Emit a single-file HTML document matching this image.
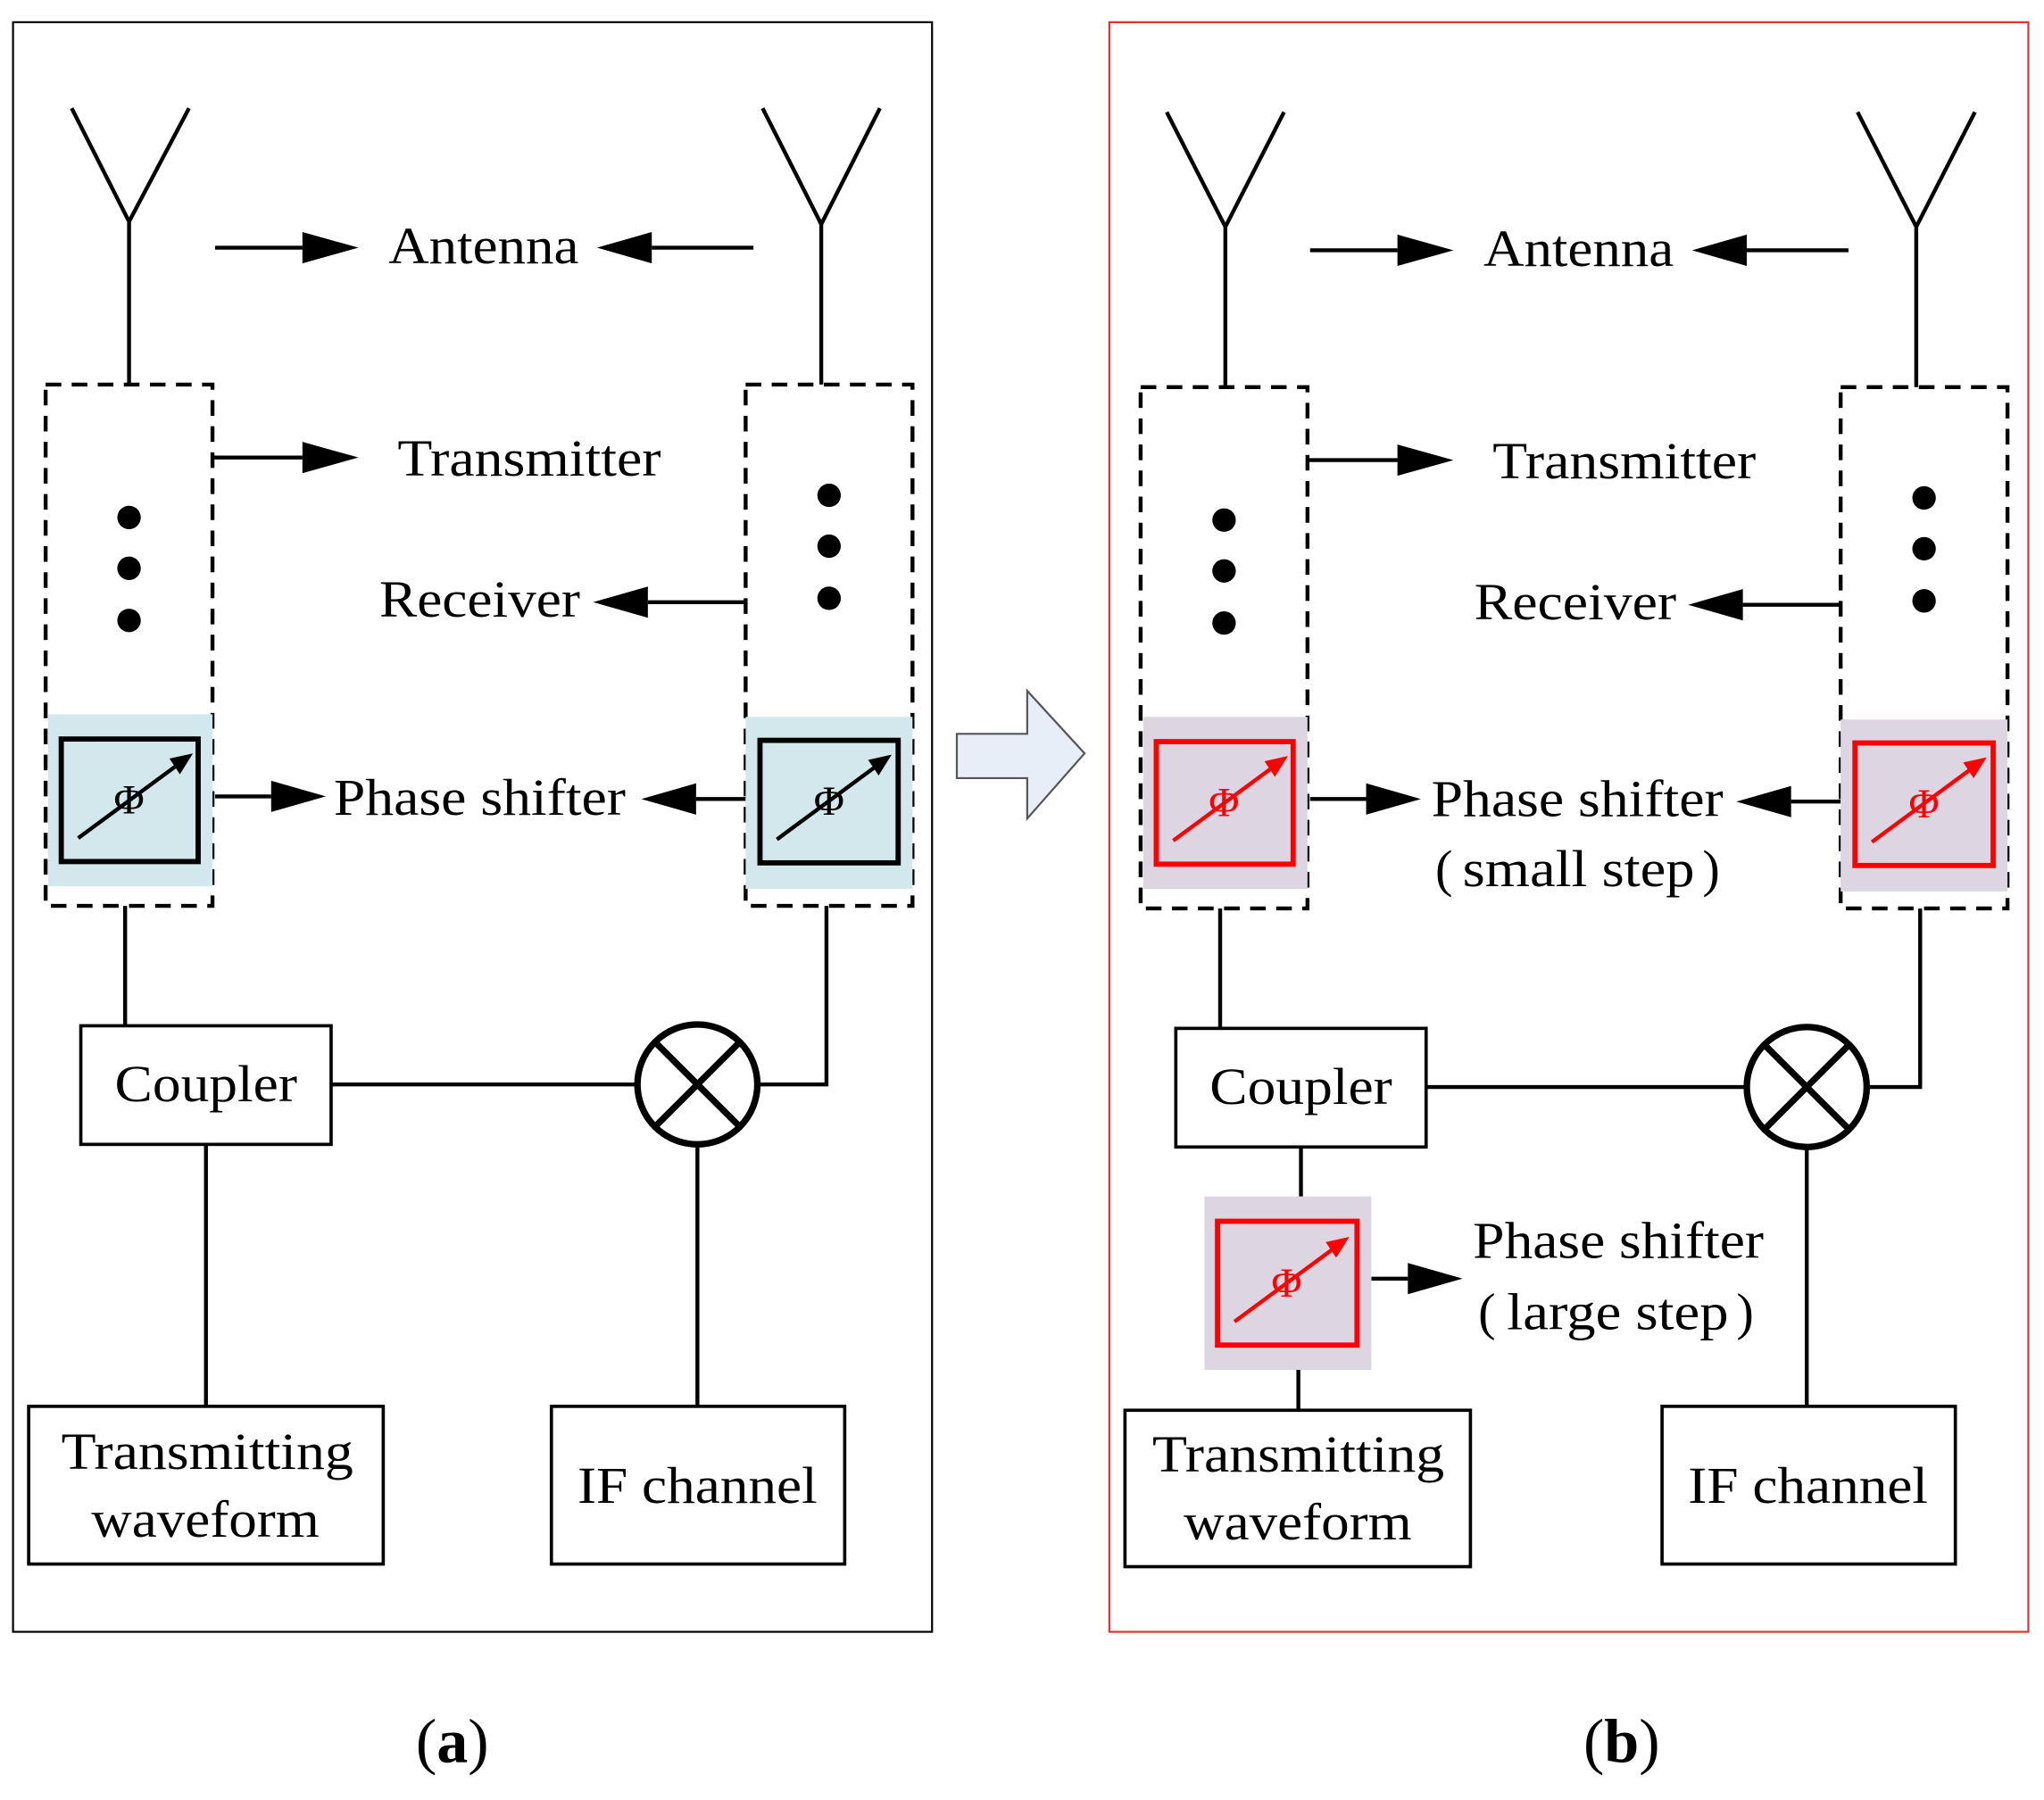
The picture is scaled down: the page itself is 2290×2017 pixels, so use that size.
<!DOCTYPE html>
<html><head><meta charset="utf-8"><style>html,body{margin:0;padding:0;background:#fff}svg{display:block}</style></head>
<body>
<svg width="2290" height="2017" viewBox="0 0 1568 1381" xmlns="http://www.w3.org/2000/svg" font-family="'Liberation Serif', serif">
<rect width="1568" height="1381" fill="#fff"/>
<rect x="10" y="17" width="705" height="1235" fill="none" stroke="#000" stroke-width="1.5"/>
<rect x="851" y="17" width="705" height="1235" fill="none" stroke="#e53030" stroke-width="1.5"/>
<polygon points="734,563 788,563 788,530 832,578 788,628 788,597 734,597" fill="#e8eef7" stroke="#555" stroke-width="1.5"/>

<g stroke="#000" stroke-width="3" fill="none">
<path d="M55,83 L99,170 L145,83 M99,170 V295"/>
<path d="M585,83 L630,172 L675,83 M630,172 V295"/>
<rect x="35" y="295" width="128" height="400" stroke-dasharray="12 8"/>
<rect x="572" y="295" width="128" height="400" stroke-dasharray="12 8"/>
<path d="M96,695 V787 M254,832 H489 M582,832 H634 V695 M158,878 V1079 M535,878 V1079"/>
<rect x="62" y="787" width="192" height="91" stroke-width="2.5"/>
<rect x="22" y="1079" width="272" height="121" stroke-width="2.5"/>
<rect x="423" y="1079" width="225" height="121" stroke-width="2.5"/>
<circle cx="535" cy="832" r="46" stroke-width="5"/>
<path d="M502,799 L568,865 M568,799 L502,865" stroke-width="5"/>
</g>
<g fill="#000">
<circle cx="99" cy="397" r="9"/><circle cx="99" cy="436" r="9"/><circle cx="99" cy="476" r="9"/>
<circle cx="636" cy="380" r="9"/><circle cx="636" cy="419" r="9"/><circle cx="636" cy="459" r="9"/>
</g>
<g stroke="#000" stroke-width="3">
<line x1="165" y1="190" x2="232" y2="190"/><polygon points="232,178 275,190 232,202" fill="#000" stroke="none"/>
<line x1="578" y1="190" x2="500" y2="190"/><polygon points="500,178 458,190 500,202" fill="#000" stroke="none"/>
<line x1="163" y1="351" x2="232" y2="351"/><polygon points="232,339 275,351 232,363" fill="#000" stroke="none"/>
<line x1="572" y1="462" x2="497" y2="462"/><polygon points="497,450 455,462 497,474" fill="#000" stroke="none"/>
<line x1="165" y1="611" x2="208" y2="611"/><polygon points="208,599 250,611 208,623" fill="#000" stroke="none"/>
<line x1="572" y1="613" x2="534" y2="613"/><polygon points="534,601 492,613 534,625" fill="#000" stroke="none"/>
</g>
<rect x="37" y="548" width="126" height="132" fill="#d3e8ec"/>
<rect x="572" y="550" width="128" height="132" fill="#d3e8ec"/>
<g stroke="#000" stroke-width="4" fill="none">
<rect x="47" y="567" width="105" height="94"/>
<rect x="583" y="568" width="106" height="94"/>
<line x1="60" y1="643" x2="140" y2="584" stroke-width="3"/>
<line x1="596" y1="644" x2="676" y2="585" stroke-width="3"/>
</g>
<polygon points="148,578 130,582 138,594" fill="#000"/>
<polygon points="684,579 666,583 674,595" fill="#000"/>
<g font-size="32" text-anchor="middle" fill="#000"><text x="99" y="624">Φ</text><text x="636" y="625">Φ</text></g>
<g font-size="40" fill="#000">
<text x="298" y="202" textLength="146" lengthAdjust="spacingAndGlyphs">Antenna</text>
<text x="305" y="365" textLength="202" lengthAdjust="spacingAndGlyphs">Transmitter</text>
<text x="291" y="473" textLength="154" lengthAdjust="spacingAndGlyphs">Receiver</text>
<text x="256" y="625" textLength="224" lengthAdjust="spacingAndGlyphs">Phase shifter</text>
<text x="88" y="845" textLength="140" lengthAdjust="spacingAndGlyphs">Coupler</text>
<text x="47" y="1127" textLength="224" lengthAdjust="spacingAndGlyphs">Transmitting</text>
<text x="70" y="1179" textLength="175" lengthAdjust="spacingAndGlyphs">waveform</text>
<text x="443" y="1153" textLength="184" lengthAdjust="spacingAndGlyphs">IF channel</text>
<text x="347" y="1352" text-anchor="middle" font-size="48">(<tspan font-weight="bold">a</tspan>)</text>
<text x="1244" y="1352" text-anchor="middle" font-size="48">(<tspan font-weight="bold">b</tspan>)</text>
</g>

<g stroke="#000" stroke-width="3" fill="none">
<path d="M895,86 L940,174 L985,86 M940,174 V297"/>
<path d="M1425,86 L1470,174 L1515,86 M1470,174 V297"/>
<rect x="875" y="297" width="128" height="400" stroke-dasharray="12 8"/>
<rect x="1412" y="297" width="128" height="400" stroke-dasharray="12 8"/>
<path d="M936,697 V789 M1094,834 H1340 M1433,834 H1473 V697 M998,880 V918 M996,1051 V1082 M1386,880 V1079"/>
<rect x="902" y="789" width="192" height="91" stroke-width="2.5"/>
<rect x="863" y="1082" width="265" height="120" stroke-width="2.5"/>
<rect x="1275" y="1079" width="225" height="121" stroke-width="2.5"/>
<circle cx="1386" cy="834" r="46" stroke-width="5"/>
<path d="M1353,801 L1419,867 M1419,801 L1353,867" stroke-width="5"/>
</g>
<g fill="#000">
<circle cx="939" cy="399" r="9"/><circle cx="939" cy="438" r="9"/><circle cx="939" cy="478" r="9"/>
<circle cx="1476" cy="382" r="9"/><circle cx="1476" cy="421" r="9"/><circle cx="1476" cy="461" r="9"/>
</g>
<g stroke="#000" stroke-width="3">
<line x1="1005" y1="192" x2="1072" y2="192"/><polygon points="1072,180 1115,192 1072,204" fill="#000" stroke="none"/>
<line x1="1418" y1="192" x2="1340" y2="192"/><polygon points="1340,180 1298,192 1340,204" fill="#000" stroke="none"/>
<line x1="1003" y1="353" x2="1072" y2="353"/><polygon points="1072,341 1115,353 1072,365" fill="#000" stroke="none"/>
<line x1="1412" y1="464" x2="1337" y2="464"/><polygon points="1337,452 1295,464 1337,476" fill="#000" stroke="none"/>
<line x1="1005" y1="613" x2="1048" y2="613"/><polygon points="1048,601 1090,613 1048,625" fill="#000" stroke="none"/>
<line x1="1412" y1="615" x2="1374" y2="615"/><polygon points="1374,603 1332,615 1374,627" fill="#000" stroke="none"/>
<line x1="1052" y1="981" x2="1080" y2="981"/><polygon points="1080,969 1122,981 1080,993" fill="#000" stroke="none"/>
</g>
<rect x="877" y="550" width="126" height="132" fill="#ddd6e2"/>
<rect x="1412" y="552" width="128" height="132" fill="#ddd6e2"/>
<rect x="924" y="918" width="128" height="133" fill="#ddd6e2"/>
<g stroke="#f00" stroke-width="4" fill="none">
<rect x="887" y="569" width="105" height="94"/>
<rect x="1423" y="570" width="106" height="94"/>
<rect x="934" y="937" width="107" height="95"/>
<line x1="900" y1="645" x2="980" y2="586" stroke-width="3"/>
<line x1="1436" y1="646" x2="1516" y2="587" stroke-width="3"/>
<line x1="947" y1="1014" x2="1027" y2="955" stroke-width="3"/>
</g>
<polygon points="988,580 970,584 978,596" fill="#f00"/>
<polygon points="1524,581 1506,585 1514,597" fill="#f00"/>
<polygon points="1035,949 1017,953 1025,965" fill="#f00"/>
<g font-size="32" text-anchor="middle" fill="#f00"><text x="939" y="626">Φ</text><text x="1476" y="627">Φ</text><text x="987" y="995">Φ</text></g>
<g font-size="40" fill="#000">
<text x="1138" y="204" textLength="146" lengthAdjust="spacingAndGlyphs">Antenna</text>
<text x="1145" y="367" textLength="202" lengthAdjust="spacingAndGlyphs">Transmitter</text>
<text x="1131" y="475" textLength="155" lengthAdjust="spacingAndGlyphs">Receiver</text>
<text x="1098" y="626" textLength="224" lengthAdjust="spacingAndGlyphs">Phase shifter</text>
<text x="1101" y="680">(</text>
<text x="1122" y="680" textLength="178" lengthAdjust="spacingAndGlyphs">small step</text>
<text x="1306" y="680">)</text>
<text x="1130" y="965" textLength="223" lengthAdjust="spacingAndGlyphs">Phase shifter</text>
<text x="1134" y="1020">(</text>
<text x="1156" y="1020" textLength="170" lengthAdjust="spacingAndGlyphs">large step</text>
<text x="1332" y="1020">)</text>
<text x="928" y="847" textLength="140" lengthAdjust="spacingAndGlyphs">Coupler</text>
<text x="884" y="1129" textLength="224" lengthAdjust="spacingAndGlyphs">Transmitting</text>
<text x="908" y="1181" textLength="175" lengthAdjust="spacingAndGlyphs">waveform</text>
<text x="1295" y="1153" textLength="184" lengthAdjust="spacingAndGlyphs">IF channel</text>
</g>
</svg>
</body></html>
